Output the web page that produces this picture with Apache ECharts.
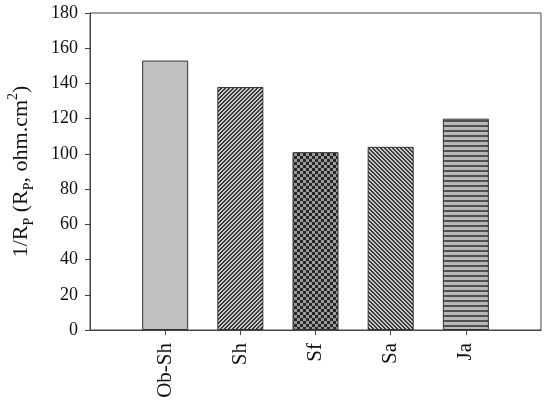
<!DOCTYPE html>
<html>
<head>
<meta charset="utf-8">
<script src="https://cdn.jsdelivr.net/npm/echarts@6/dist/echarts.min.js"></script>
<style>
  html, body { margin: 0; padding: 0; background: #fff; }
  #chart { width: 550px; height: 406px; }
</style>
</head>
<body>
<div id="chart"></div>
<script>
const categories = ['Ob-Sh', 'Sh', 'Sf', 'Sa', 'Ja'];
const values = [153, 138, 101, 104, 120];
const yTicks = [0, 20, 40, 60, 80, 100, 120, 140, 160, 180];

// little canvas tiles for the hatch fills
function makeTile(size, bg, fg, isDark) {
  const c = document.createElement('canvas');
  c.width = size; c.height = size;
  const ctx = c.getContext('2d');
  ctx.fillStyle = bg;
  ctx.fillRect(0, 0, size, size);
  ctx.fillStyle = fg;
  for (let y = 0; y < size; y++) {
    for (let x = 0; x < size; x++) {
      if (isDark(x, y)) ctx.fillRect(x, y, 1, 1);
    }
  }
  return c;
}

const fills = [
  '#c0c0c0',
  { image: makeTile(4, '#c8c8c8', '#3a3a3a', (x, y) => (x + y) % 4 < 2), repeat: 'repeat' },
  { image: makeTile(6, '#9a9a9a', '#262626', (x, y) => ((Math.floor(x / 3) + Math.floor(y / 3)) % 2) === 0), repeat: 'repeat' },
  { image: makeTile(4, '#c8c8c8', '#3a3a3a', (x, y) => (x - y + 8) % 4 < 2), repeat: 'repeat' },
  { image: makeTile(5, '#b8b8b8', '#505050', (x, y) => y % 5 < 2), repeat: 'repeat' }
];

// pad the category axis so bars sit at 1..5 on a 0..6 span
const xCats = [''].concat(categories, ['']);
const barData = [null].concat(values.map((v, i) => ({
  value: v,
  itemStyle: { color: fills[i] }
})), [null]);

const chart = echarts.init(document.getElementById('chart'));
const serif = 'Liberation Serif';

chart.setOption({
  animation: false,
  grid: {
    left: 90, right: 9, top: 13, bottom: 76,
    outerBoundsMode: 'none',
    containLabel: false,
    show: true, borderColor: '#444', borderWidth: 1, backgroundColor: 'transparent'
  },
  xAxis: {
    type: 'category',
    data: xCats,
    boundaryGap: false,
    axisLine: { lineStyle: { color: '#444', width: 1 } },
    axisTick: {
      alignWithLabel: true,
      length: 5,
      lineStyle: { color: '#444' },
      interval: (i) => i > 0 && i < xCats.length - 1
    },
    axisLabel: {
      rotate: 90,
      interval: 0,
      margin: 13,
      fontFamily: serif,
      fontSize: 21,
      color: '#111'
    },
    splitLine: { show: false }
  },
  yAxis: {
    type: 'value',
    min: yTicks[0],
    max: yTicks[yTicks.length - 1],
    interval: 20,
    name: '{a|1/R}{s|P}{a| (R}{s|P}{a|, ohm.cm}{u|2}{a|)}',
    nameLocation: 'middle',
    nameGap: 54,
    nameTextStyle: {
      rich: {
        a: { fontFamily: serif, fontSize: 22, color: '#111', lineHeight: 30, verticalAlign: 'middle' },
        s: { fontFamily: serif, fontSize: 14, color: '#111', lineHeight: 20, verticalAlign: 'bottom' },
        u: { fontFamily: serif, fontSize: 14, color: '#111', lineHeight: 22, verticalAlign: 'top' }
      }
    },
    axisLine: { show: true, lineStyle: { color: '#444', width: 1 } },
    axisTick: { show: true, length: 5, lineStyle: { color: '#444' } },
    axisLabel: {
      margin: 12,
      fontFamily: serif,
      fontSize: 18,
      color: '#111'
    },
    splitLine: { show: false }
  },
  series: [{
    type: 'bar',
    data: barData,
    barWidth: 46,
    itemStyle: { borderColor: '#333', borderWidth: 1 }
  }]
});
</script>
</body>
</html>
